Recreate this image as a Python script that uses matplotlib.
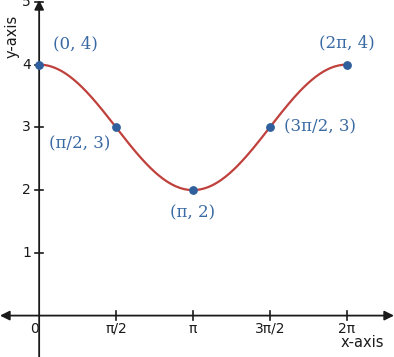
import numpy as np
import matplotlib
matplotlib.use("Agg")
import matplotlib.pyplot as plt

# key points of y = 3 + cos(x)
x_points = [0, np.pi / 2, np.pi, 3 * np.pi / 2, 2 * np.pi]
y_points = [4, 3, 2, 3, 4]
point_labels = ["(0, 4)", "(π/2, 3)", "(π, 2)", "(3π/2, 3)", "(2π, 4)"]
label_offsets = [(36, 21), (-36, -17), (0, -23), (50, 0), (0, 22)]  # px

x_ticks = [0, np.pi / 2, np.pi, 3 * np.pi / 2, 2 * np.pi]
x_tick_labels = ["0", "π/2", "π", "3π/2", "2π"]
y_ticks = [1, 2, 3, 4, 5]

curve_color = "#c0403c"
point_color = "#2f5f9c"
label_color = "#3a6aa3"
axis_color = "#1a1a1a"

fig = plt.figure(figsize=(3.94, 3.57), dpi=100)
ax = fig.add_axes([0, 0, 1, 1])
ax.set_xlim(-0.80, 7.25)
ax.set_ylim(-0.66, 5.03)
ax.axis("off")

# axes with arrows
ax.annotate("", xy=(-0.80, 0), xytext=(7.25, 0), annotation_clip=False,
            arrowprops=dict(arrowstyle="<|-|>", color=axis_color, lw=1.3,
                            mutation_scale=14, shrinkA=0, shrinkB=0))
ax.annotate("", xy=(0, 5.03), xytext=(0, -0.66), annotation_clip=False,
            arrowprops=dict(arrowstyle="-|>", color=axis_color, lw=1.3,
                            mutation_scale=14, shrinkA=0, shrinkB=0))

# tick marks and labels
for xt, lab in zip(x_ticks, x_tick_labels):
    if xt != 0:
        ax.plot([xt, xt], [-0.07, 0.07], color=axis_color, lw=1.2)
        ax.text(xt, -0.10, lab, ha="center", va="top", fontsize=10,
                color=axis_color)
ax.text(-0.1, -0.10, "0", ha="center", va="top", fontsize=10, color=axis_color)
for yt in y_ticks:
    ax.plot([-0.08, 0.08], [yt, yt], color=axis_color, lw=1.2)
    ax.text(-0.17, yt, str(yt), ha="right", va="center", fontsize=10, color=axis_color)

ax.text(7.05, -0.43, "x-axis", ha="right", va="center", fontsize=10.5, color=axis_color)
ax.text(-0.55, 4.45, "y-axis", ha="center", va="center", rotation=90,
        fontsize=10.5, color=axis_color)

# curve
xs = np.linspace(0, 2 * np.pi, 300)
ax.plot(xs, 3 + np.cos(xs), color=curve_color, lw=1.6, zorder=3)

# points and labels
ax.scatter(x_points, y_points, s=28, color=point_color, zorder=4)
for xp, yp, lab, off in zip(x_points, y_points, point_labels, label_offsets):
    ax.annotate(lab, (xp, yp), xytext=off, textcoords="offset pixels",
                ha="center", va="center", fontsize=12, family="DejaVu Serif",
                color=label_color)

fig.savefig("out.png", dpi=100)
